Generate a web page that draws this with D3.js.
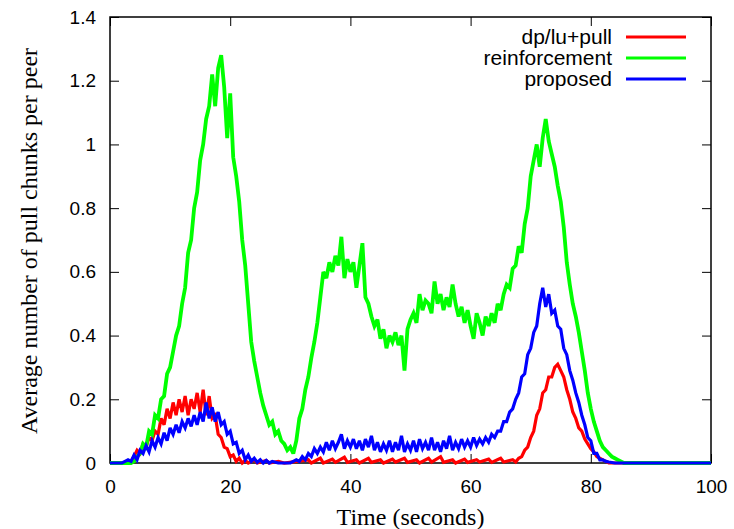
<!DOCTYPE html>
<html>
<head>
<meta charset="utf-8">
<script src="https://cdn.jsdelivr.net/npm/d3@7"></script>
<style>
  html, body { margin: 0; padding: 0; background: #fff; }
  svg { display: block; }
</style>
</head>
<body>
<svg id="chart" width="734" height="529"></svg>
<script>
// ---- data: [time (s), average pull chunks per peer] ----
const seriesNames = ["dp/lu+pull", "reinforcement", "proposed"];
const seriesColors = ["#ff0000", "#00ff00", "#0000ff"];
const xTicks = [0, 20, 40, 60, 80, 100];
const yTicks = [0, 0.2, 0.4, 0.6, 0.8, 1, 1.2, 1.4];

const dpluPull = [
  [0,0],[3,0],[3.5,0.005],[4,0.02],[4.5,0.04],[5,0.03],[5.5,0.06],[6,0.05],[6.5,0.08],[7,0.07],
  [7.5,0.10],[8,0.09],[8.5,0.14],[9,0.12],[9.5,0.17],[10,0.14],[10.5,0.19],[11,0.15],[11.5,0.20],
  [12,0.16],[12.5,0.21],[13,0.15],[13.5,0.20],[14,0.17],[14.5,0.22],[15,0.16],[15.5,0.23],[16,0.15],
  [16.5,0.21],[17,0.14],[17.5,0.15],[18,0.09],[18.5,0.08],[19,0.05],[19.5,0.045],[20,0.02],
  [20.5,0.025],[21,0.005],[21.5,0.015],[22,0],[22.5,0.008],[23,0],[24,0.01],[24.5,0],[26,0.008],
  [26.5,0],[28,0.005],[29,0],[33,0.01],[33.5,0],[35,0.015],[35.5,0],[37,0.012],[37.5,0.002],
  [39,0.018],[39.5,0.002],[41,0.01],[41.5,0],[43,0.015],[43.5,0.002],[45,0.01],[45.5,0],
  [47,0.012],[47.5,0.003],[49,0.015],[49.5,0.002],[51,0.01],[51.5,0],[53,0.015],[53.5,0.003],
  [55,0.02],[55.5,0.002],[57,0.01],[57.5,0],[59,0.012],[59.5,0.002],[61,0.01],[61.5,0.003],
  [63,0.012],[63.5,0.002],[65,0.015],[65.5,0.003],[67,0.01],[67.5,0.003],[68,0.015],[68.5,0.02],
  [69,0.04],[69.5,0.05],[70,0.08],[70.5,0.10],[71,0.15],[71.5,0.17],[72,0.22],[72.5,0.23],
  [73,0.27],[73.5,0.27],[74,0.30],[74.5,0.31],[75,0.29],[75.5,0.27],[76,0.23],[76.5,0.20],
  [77,0.16],[77.5,0.14],[78,0.11],[78.5,0.10],[79,0.075],[79.5,0.06],[80,0.045],[80.5,0.035],
  [81,0.02],[81.5,0.015],[82,0.01],[82.5,0.005],[83,0],[100,0]
];

const reinforcement = [
  [0,0],[3.5,0],[4,0.005],[4.5,0.02],[5,0.03],[5.5,0.06],[6,0.05],[6.5,0.10],[7,0.09],[7.5,0.15],
  [8,0.14],[8.5,0.20],[9,0.21],[9.5,0.28],[10,0.30],[10.5,0.35],[11,0.40],[11.5,0.43],[12,0.50],
  [12.5,0.55],[13,0.66],[13.5,0.70],[14,0.80],[14.5,0.85],[15,0.95],[15.5,1.00],[16,1.08],
  [16.5,1.12],[17,1.22],[17.5,1.12],[18,1.24],[18.5,1.28],[19,1.18],[19.5,1.02],[20,1.16],
  [20.5,0.96],[21,0.90],[21.5,0.82],[22,0.70],[22.5,0.62],[23,0.50],[23.5,0.38],[24,0.32],
  [24.5,0.27],[25,0.22],[25.5,0.18],[26,0.15],[26.5,0.12],[27,0.13],[27.5,0.09],[28,0.10],
  [28.5,0.07],[29,0.06],[29.5,0.04],[30,0.05],[30.5,0.03],[31,0.07],[31.5,0.14],[32,0.17],
  [32.5,0.23],[33,0.27],[33.5,0.33],[34,0.38],[34.5,0.44],[35,0.52],[35.5,0.60],[36,0.58],
  [36.5,0.63],[37,0.60],[37.5,0.65],[38,0.62],[38.5,0.71],[39,0.58],[39.5,0.64],[40,0.60],
  [40.5,0.63],[41,0.55],[41.5,0.62],[42,0.69],[42.5,0.52],[43,0.50],[43.5,0.46],[44,0.43],
  [44.5,0.45],[45,0.39],[45.5,0.42],[46,0.36],[46.5,0.40],[47,0.38],[47.5,0.41],[48,0.37],
  [48.5,0.40],[49,0.29],[49.5,0.42],[50,0.45],[50.5,0.47],[51,0.44],[51.5,0.53],[52,0.48],
  [52.5,0.51],[53,0.50],[53.5,0.47],[54,0.57],[54.5,0.50],[55,0.53],[55.5,0.48],[56,0.52],
  [56.5,0.49],[57,0.56],[57.5,0.50],[58,0.46],[58.5,0.49],[59,0.44],[59.5,0.48],[60,0.43],
  [60.5,0.39],[61,0.47],[61.5,0.44],[62,0.40],[62.5,0.46],[63,0.43],[63.5,0.47],[64,0.44],
  [64.5,0.50],[65,0.48],[65.5,0.53],[66,0.56],[66.5,0.55],[67,0.61],[67.5,0.62],[68,0.68],
  [68.5,0.66],[69,0.75],[69.5,0.80],[70,0.90],[70.5,0.95],[71,1.00],[71.5,0.93],[72,1.02],
  [72.5,1.08],[73,1.01],[73.5,0.97],[74,0.93],[74.5,0.87],[75,0.82],[75.5,0.74],[76,0.63],
  [76.5,0.56],[77,0.50],[77.5,0.46],[78,0.41],[78.5,0.35],[79,0.29],[79.5,0.22],[80,0.17],
  [80.5,0.13],[81,0.10],[81.5,0.07],[82,0.05],[82.5,0.04],[83,0.03],[83.5,0.02],[84,0.015],
  [84.5,0.01],[85,0.005],[85.5,0],[100,0]
];

const proposed = [
  [0,0],[2,0],[2.5,0.005],[3,0.01],[3.5,0.005],[4,0.025],[4.5,0.01],[5,0.04],[5.5,0.03],
  [6,0.055],[6.5,0.035],[7,0.07],[7.5,0.05],[8,0.08],[8.5,0.06],[9,0.095],[9.5,0.07],[10,0.11],
  [10.5,0.09],[11,0.12],[11.5,0.095],[12,0.13],[12.5,0.11],[13,0.14],[13.5,0.115],[14,0.15],
  [14.5,0.12],[15,0.16],[15.5,0.13],[16,0.19],[16.5,0.14],[17,0.175],[17.5,0.13],[18,0.16],
  [18.5,0.12],[19,0.13],[19.5,0.09],[20,0.10],[20.5,0.06],[21,0.065],[21.5,0.03],[22,0.04],
  [22.5,0.01],[23,0.025],[23.5,0.005],[24,0.015],[24.5,0.002],[25,0.01],[25.5,0],[26,0.008],
  [26.5,0],[27,0.005],[28,0],[30,0],[30.5,0.005],[31,0.01],[31.5,0.005],[32,0.02],[32.5,0.01],
  [33,0.03],[33.5,0.02],[34,0.045],[34.5,0.03],[35,0.05],[35.5,0.035],[36,0.065],[36.5,0.04],
  [37,0.07],[37.5,0.045],[38,0.065],[38.5,0.09],[39,0.045],[39.5,0.07],[40,0.05],[40.5,0.075],
  [41,0.045],[41.5,0.07],[42,0.04],[42.5,0.075],[43,0.05],[43.5,0.085],[44,0.04],[44.5,0.065],
  [45,0.035],[45.5,0.06],[46,0.04],[46.5,0.07],[47,0.035],[47.5,0.065],[48,0.04],[48.5,0.085],
  [49,0.035],[49.5,0.06],[50,0.04],[50.5,0.07],[51,0.035],[51.5,0.075],[52,0.045],[52.5,0.065],
  [53,0.04],[53.5,0.08],[54,0.04],[54.5,0.065],[55,0.035],[55.5,0.07],[56,0.045],[56.5,0.085],
  [57,0.04],[57.5,0.065],[58,0.045],[58.5,0.075],[59,0.05],[59.5,0.07],[60,0.05],[60.5,0.08],
  [61,0.055],[61.5,0.075],[62,0.06],[62.5,0.08],[63,0.065],[63.5,0.09],[64,0.08],[64.5,0.10],
  [65,0.10],[65.5,0.13],[66,0.13],[66.5,0.16],[67,0.17],[67.5,0.20],[68,0.22],[68.5,0.27],
  [69,0.28],[69.5,0.34],[70,0.36],[70.5,0.41],[71,0.43],[71.5,0.50],[72,0.55],[72.5,0.49],
  [73,0.53],[73.5,0.47],[74,0.48],[74.5,0.43],[75,0.42],[75.5,0.36],[76,0.34],[76.5,0.29],
  [77,0.26],[77.5,0.22],[78,0.19],[78.5,0.15],[79,0.12],[79.5,0.08],[80,0.07],[80.5,0.03],
  [81,0.03],[81.5,0.01],[82,0.01],[82.5,0.005],[83,0.003],[84,0],[100,0]
];

const seriesData = [dpluPull, reinforcement, proposed];
const seriesWidths = [3.2, 3.8, 3.2];

// ---- layout ----
const svg = d3.select("#chart");
const mLeft = 110, mRight = 711, mTop = 17, mBottom = 463;

const x = d3.scaleLinear().domain([0, 100]).range([mLeft, mRight]);
const y = d3.scaleLinear().domain([0, 1.4]).range([mBottom, mTop]);

const tickFont = "'Liberation Sans', Arial, Helvetica, sans-serif";
const titleFont = "'Liberation Serif', 'Times New Roman', serif";
const tickLen = 9;

function styleAxis(g) {
  g.select(".domain").remove();
  g.selectAll(".tick line").attr("stroke", "#000").attr("stroke-width", 1);
  g.selectAll(".tick text").attr("fill", "#000")
    .style("font-family", tickFont).style("font-size", "19px");
}

svg.append("g").attr("transform", `translate(0,${mBottom})`)
  .call(d3.axisBottom(x).tickValues(xTicks).tickSize(-tickLen).tickPadding(tickLen + 8).tickFormat(d3.format("d")))
  .call(styleAxis);
svg.append("g").attr("transform", `translate(0,${mTop})`)
  .call(d3.axisTop(x).tickValues(xTicks).tickSize(-tickLen).tickFormat(""))
  .call(styleAxis);
svg.append("g").attr("transform", `translate(${mLeft},0)`)
  .call(d3.axisLeft(y).tickValues(yTicks).tickSize(-tickLen).tickPadding(tickLen + 5).tickFormat(d => d3.format("~g")(d)))
  .call(styleAxis);
svg.append("g").attr("transform", `translate(${mRight},0)`)
  .call(d3.axisRight(y).tickValues(yTicks).tickSize(-tickLen).tickFormat(""))
  .call(styleAxis);

svg.append("rect")
  .attr("x", mLeft).attr("y", mTop)
  .attr("width", mRight - mLeft).attr("height", mBottom - mTop)
  .attr("fill", "none").attr("stroke", "#000").attr("stroke-width", 1.5);

const line = d3.line().x(d => x(d[0])).y(d => y(d[1]));
svg.append("g").selectAll("path")
  .data(seriesData)
  .join("path")
  .attr("d", line)
  .attr("fill", "none")
  .attr("stroke", (d, i) => seriesColors[i])
  .attr("stroke-width", (d, i) => seriesWidths[i])
  .attr("stroke-linejoin", "miter")
  .attr("stroke-miterlimit", 3);

const legend = svg.append("g");
seriesNames.forEach((name, i) => {
  const ly = 37 + i * 21;
  legend.append("text")
    .attr("x", 612).attr("y", ly).attr("dy", "0.35em")
    .attr("text-anchor", "end")
    .style("font-family", tickFont).style("font-size", "21px")
    .text(name);
  legend.append("line")
    .attr("x1", 626).attr("x2", 686).attr("y1", ly).attr("y2", ly)
    .attr("stroke", seriesColors[i]).attr("stroke-width", 3);
});

svg.append("text")
  .attr("x", (mLeft + mRight) / 2).attr("y", 525)
  .attr("text-anchor", "middle")
  .style("font-family", titleFont).style("font-size", "24px")
  .text("Time (seconds)");
svg.append("text")
  .attr("transform", `translate(37,${(mTop + mBottom) / 2 + 1}) rotate(-90)`)
  .attr("text-anchor", "middle")
  .style("font-family", titleFont).style("font-size", "24px")
  .text("Average number of pull chunks per peer");
</script>
</body>
</html>
